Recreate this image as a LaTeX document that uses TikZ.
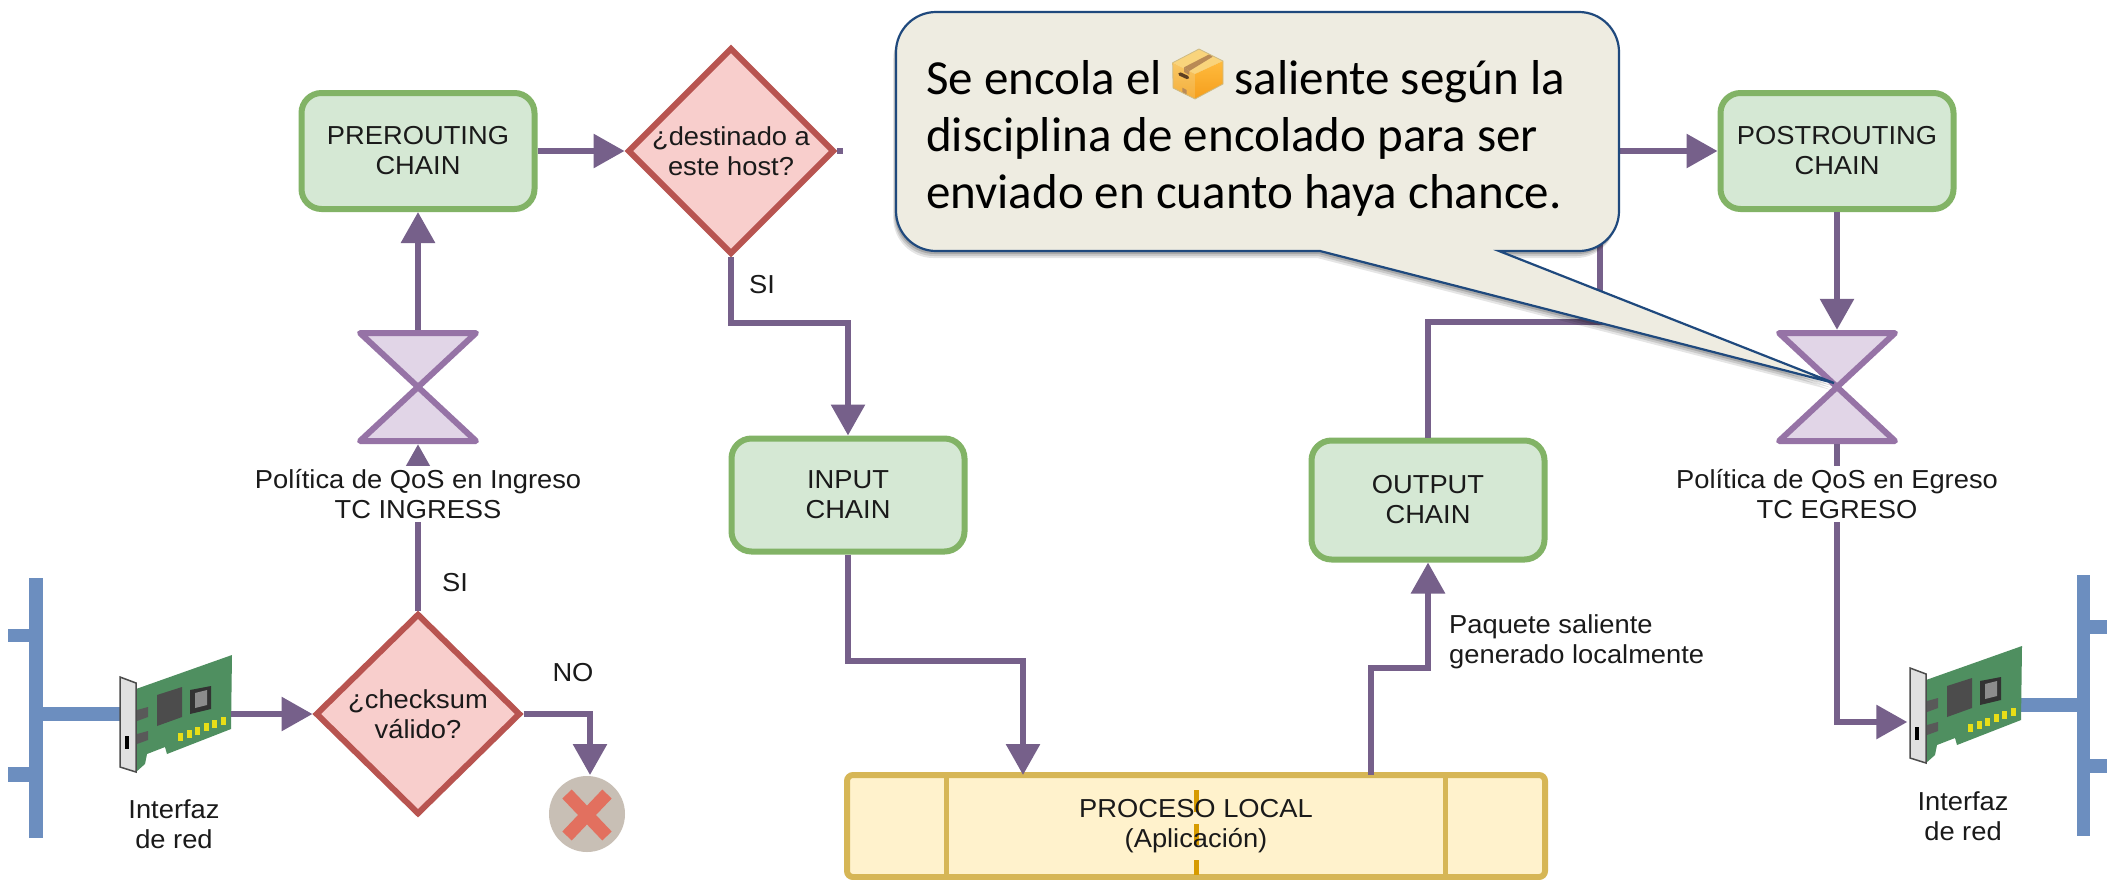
\documentclass[tikz,border=0pt]{standalone}
\usepackage{fontspec}
\setmainfont[FakeStretch=1.05]{Liberation Sans}
\newfontfamily\callfont{Carlito}
\usetikzlibrary{arrows.meta,shapes.geometric}
\definecolor{gfill}{HTML}{D5E8D4}\definecolor{gline}{HTML}{82B366}
\definecolor{rfill}{HTML}{F8CECC}\definecolor{rline}{HTML}{B85450}
\definecolor{pfill}{HTML}{E1D5E7}\definecolor{pline}{HTML}{9673A6}
\definecolor{yfill}{HTML}{FFF2CC}\definecolor{yline}{HTML}{D6B656}
\definecolor{conn}{HTML}{76608A}\definecolor{busc}{HTML}{6C8EBF}
\definecolor{orangec}{HTML}{D79B00}\definecolor{txt}{HTML}{1A1A1A}
\definecolor{callf}{HTML}{EEECE1}\definecolor{calll}{HTML}{1F497D}
\definecolor{nicg}{HTML}{4F8F60}
\definecolor{dropc}{HTML}{C8BFB5}\definecolor{dropx}{HTML}{E2705F}
\definecolor{boxtop}{HTML}{F9D47C}\definecolor{boxlefta}{HTML}{F8C765}\definecolor{boxleftb}{HTML}{F5AE3A}
\definecolor{boxrighta}{HTML}{FFBB3E}\definecolor{boxrightb}{HTML}{F59E1C}
\definecolor{boxtape}{HTML}{B98A55}\definecolor{boxtab}{HTML}{5E3F22}\definecolor{boxedge}{HTML}{CDBB85}
\tikzset{
 chain/.style={draw=gline,fill=gfill,line width=6pt,rounded corners=20pt,minimum width=233pt,minimum height=116pt,align=center,font=\fontsize{26}{30}\selectfont,text=txt},
 deci/.style={diamond,aspect=1,draw=rline,fill=rfill,line width=6pt,minimum width=205pt,minimum height=201pt,inner sep=0pt,align=center,font=\fontsize{26}{30}\selectfont,text=txt},
 lbl/.style={align=center,font=\fontsize{26}{30}\selectfont,text=txt,inner sep=0pt},
 whitelbl/.style={lbl,fill=white,inner xsep=4pt,inner ysep=3pt},
 conn/.style={draw=conn,line width=6pt,line join=miter},
 arr/.style={conn,-{Triangle[length=31pt,width=33pt]}},
 glass/.style={draw=pline,fill=pfill,line width=6pt,line join=round},
 bus/.style={fill=busc},
 ancla/.style={inner sep=0pt,minimum width=120pt,minimum height=114pt},
}
\newcommand{\nicdraw}[2]{%
 \begin{scope}[shift={(#1,#2)}]
  \fill[nicg] (16,12)--(112,-22)--(111,52)--(47,77)--(45,70)--(27,77)--(25,87)--(16,95)--cycle;
  \fill[black!70] (37,18)--(62,10)--(62,40)--(37,49)--cycle;
  \fill[black!80] (70,13)--(91,9)--(91,32)--(70,37)--cycle;
  \fill[black!45] (75,16)--(87,13)--(87,28)--(75,31)--cycle;
  \fill[black!65] (17,33)--(28,30)--(28,40)--(17,44)--cycle;
  \fill[black!65] (17,57)--(28,54)--(28,63)--(17,67)--cycle;
  \foreach \k in {0,...,5}{\fill[yellow!90!black] ({58+8.6*\k},{64-3.2*\k}) rectangle ++(5,-8);}
  \draw[fill=black!12,draw=black!70,line width=1.5pt] (0,0)--(16,6)--(16,95)--(0,90)--cycle;
  \fill[black] (5,59) rectangle (9,72);
 \end{scope}}
\begin{document}
\begin{tikzpicture}[x=1pt,y=-1pt]
\useasboundingbox (0,0) rectangle (2109,879);
\fill[white] (0,0) rectangle (2109,879);
% buses
\fill[bus] (29,578) rectangle (43,838);
\fill[bus] (8,629) rectangle (29,642);
\fill[bus] (8,767) rectangle (29,782);
\fill[bus] (43,707) rectangle (121,721);
\fill[bus] (2077,575) rectangle (2090,836);
\fill[bus] (2090,620) rectangle (2107,634);
\fill[bus] (2090,759) rectangle (2107,773);
\fill[bus] (2021,698) rectangle (2077,712);
\nicdraw{120}{677}
\nicdraw{1910}{668}
% anchors for the network cards
\node[inner sep=0pt,minimum width=1pt,minimum height=1pt] (nicl) at (230,714) {};
\node[inner sep=0pt,minimum width=1pt,minimum height=1pt] (nicr) at (1908,722) {};
% main nodes
\node[chain] (pre) at (418,151) {PREROUTING\\CHAIN};
\node[deci] (host) at (731,151) {¿destinado a\\este host?};
\node[deci] (check) at (418,714) {¿checksum\\válido?};
\node[chain,minimum height=113pt] (input) at (848,495) {INPUT\\CHAIN};
\node[chain,minimum height=119pt] (output) at (1428,500) {OUTPUT\\CHAIN};
\node[chain] (post) at (1837,151) {POSTROUTING\\CHAIN};
\node[draw=yline,fill=yfill,line width=6pt,rounded corners=6pt,minimum width=698pt,minimum height=102pt,inner sep=0pt] (proc) at (1196,826) {};
\draw[yline,line width=5pt] (946,775)--(946,877) (1445,775)--(1445,877);
\draw[orangec,line width=5pt] (1196,790)--(1196,812) (1196,824)--(1196,845) (1196,860)--(1196,875);
\node[lbl] (proctxt) at (1196,826) {PROCESO LOCAL\\(Aplicación)};
% hourglasses
\path[glass] (360,333)--(476,333)--(360,441)--(476,441)--cycle;
\path[glass] (1779,333)--(1895,333)--(1779,441)--(1895,441)--cycle;
\node[ancla] (hl) at (418,387) {};
\node[ancla] (hr) at (1837,387) {};
% red X
\node[circle,fill=dropc,minimum size=76pt,inner sep=0pt] (drop) at (587,814) {};
\draw[line width=13pt,draw=dropx] (567,794)--(607,836) (607,794)--(567,836);
% connectors
\draw[arr] (nicl) -- (check.west);
\coordinate (nob) at (590,714);
\coordinate (nob2) at (590,775);
\draw[arr] (check.east) -- (nob) -- (nob2);
\draw[arr] (check.north) -- (hl.south);
\draw[arr] (hl.north) -- (pre.south);
\draw[arr] (pre.east) -- (host.west);
\draw[conn] (host.east) -- ++(6,0);
\coordinate (h1) at (731,323);
\draw[arr] (host.south) -- (h1) -| (input.north);
\coordinate (i1) at (848,661);
\coordinate (procin) at (1023,775);
\draw[arr] (input.south) -- (i1) -| (procin);
\coordinate (procout) at (1371,775);
\coordinate (o1) at (1371,668);
\draw[arr] (procout) -- (o1) -| (output.south);
\coordinate (u1) at (1600,322);
\coordinate (u2) at (1600,151);
\draw[arr] (output.north) |- (u1) -- (u2) -- (post.west);
\draw[arr] (post.south) -- (hr.north);
\coordinate (e1) at (1837,722);
\draw[arr] (hr.south) -- (e1) -- (nicr);
% labels
\node[whitelbl] (ting) at (418,494) {Política de QoS en Ingreso\\TC INGRESS};
\node[whitelbl] (tegr) at (1837,494) {Política de QoS en Egreso\\TC EGRESO};
\node[lbl] at (455,583) {SI};
\node[lbl] at (762,285) {SI};
\node[lbl] at (573,673) {NO};
\node[lbl] at (174,824) {Interfaz\\de red};
\node[lbl] at (1963,816) {Interfaz\\de red};
\node[lbl,align=left,anchor=west] at (1449,642) {Paquete saliente\\generado localmente};
% callout
\foreach \s/\o in {7/0.10,5/0.12,3/0.16}{
\fill[black,opacity=\o,shift={(-\s*0.4,\s)}] (936,12)--(1579,12) .. controls (1601,12) and (1619,30) .. (1619,52)--(1619,211) .. controls (1619,233) and (1601,251) .. (1579,251)--(1499,251)--(1834,383)--(1320,251)--(936,251) .. controls (914,251) and (896,233) .. (896,211)--(896,52) .. controls (896,30) and (914,12) .. (936,12)--cycle;}
\draw[fill=callf,draw=calll,line width=2.2pt,line join=miter] (936,12)--(1579,12) .. controls (1601,12) and (1619,30) .. (1619,52)--(1619,211) .. controls (1619,233) and (1601,251) .. (1579,251)--(1499,251)--(1834,383)--(1320,251)--(936,251) .. controls (914,251) and (896,233) .. (896,211)--(896,52) .. controls (896,30) and (914,12) .. (936,12)--cycle;
\node[anchor=north west,inner sep=0pt,align=left,font=\callfont\fontsize{49}{57}\selectfont,text=black] (calltxt) at (926,60) {Se encola el\hspace{73pt}saliente según la\\disciplina de encolado para ser\\enviado en cuanto haya chance.};
% package icon
\begin{scope}[line join=round]
\fill[boxtop] (1172.7,62.7)--(1199,49)--(1223,61)--(1195,74)--cycle;
\path[top color=boxlefta,bottom color=boxleftb] (1172.7,62.7)--(1195,74)--(1195,99)--(1173,88)--cycle;
\path[top color=boxrighta,bottom color=boxrightb] (1195,74)--(1223,61)--(1223,84)--(1195,99)--cycle;
\fill[boxtape] (1184,67.3)--(1209.3,54.3)--(1212.7,56.7)--(1189.3,71)--cycle;
\fill[boxtape] (1184,67.3)--(1189.3,71)--(1189.3,75)--(1184,72)--cycle;
\fill[boxtape] (1182.3,87.7)--(1186.7,90)--(1186.7,95)--(1182.3,92.7)--cycle;
\draw[boxtab,line width=3.5pt,line cap=round] (1180,74)--(1187.5,77.5);
\draw[boxedge,line width=0.8pt] (1172.7,62.7)--(1199,49)--(1223,61)--(1223,84)--(1195,99)--(1173,88)--cycle;
\end{scope}
\end{tikzpicture}
\end{document}
